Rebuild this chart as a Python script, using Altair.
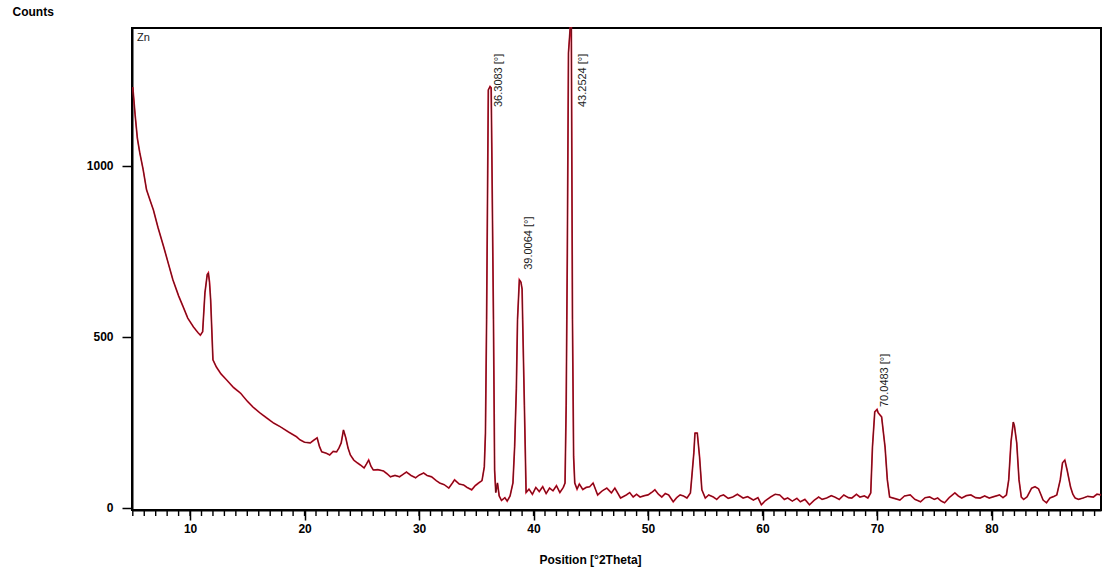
import altair as alt
import pandas as pd

two_theta = [
    5.0, 5.2, 5.4, 5.6, 5.9, 6.2, 6.5, 6.8, 7.2, 7.7, 8.1, 8.5, 9.0, 9.4, 9.8, 10.3, 10.7, 10.9,
    11.1, 11.3, 11.5, 11.6, 11.7, 11.8, 12.0, 12.3, 12.7, 13.2, 13.8, 14.4, 15.0, 15.5, 16.1, 16.7,
    17.3, 17.9, 18.6, 19.3, 19.6, 20.0, 20.5, 20.8, 21.1, 21.3, 21.5, 21.9, 22.2, 22.5, 22.8, 23.0,
    23.2, 23.4, 23.6, 23.8, 24.0, 24.3, 24.6, 24.9, 25.2, 25.4, 25.6, 25.8, 26.0, 26.4, 26.9, 27.2,
    27.5, 27.9, 28.3, 28.6, 28.9, 29.3, 29.7, 30.0, 30.4, 30.7, 31.1, 31.5, 31.8, 32.2, 32.6, 32.9,
    33.1, 33.5, 33.9, 34.2, 34.6, 34.9, 35.2, 35.5, 35.7, 35.8, 35.9, 36.05, 36.2, 36.3, 36.35, 36.5,
    36.6, 36.7, 36.85, 37.0, 37.2, 37.5, 37.7, 37.95, 38.2, 38.35, 38.5, 38.6, 38.76, 38.9, 39.0,
    39.05, 39.2, 39.35, 39.6, 39.9, 40.2, 40.5, 40.8, 41.1, 41.4, 41.7, 42.0, 42.3, 42.6, 42.75,
    42.85, 42.95, 43.05, 43.2, 43.3, 43.4, 43.5, 43.6, 43.8, 44.0, 44.3, 44.6, 44.9, 45.2, 45.6,
    46.0, 46.4, 46.8, 47.1, 47.6, 48.1, 48.4, 48.7, 49.0, 49.3, 49.7, 50.0, 50.3, 50.6, 50.9, 51.2,
    51.5, 51.8, 52.2, 52.5, 52.8, 53.1, 53.4, 53.7, 53.8, 54.0, 54.1, 54.3, 54.5, 54.7, 55.0, 55.3,
    55.7, 56.0, 56.3, 56.6, 57.0, 57.4, 57.8, 58.3, 58.7, 59.2, 59.6, 59.9, 60.2, 60.7, 61.1, 61.5,
    61.9, 62.2, 62.6, 63.0, 63.3, 63.7, 64.1, 64.5, 64.9, 65.2, 65.6, 66.0, 66.3, 66.7, 67.1, 67.5,
    67.8, 68.2, 68.5, 68.9, 69.2, 69.45, 69.6, 69.8, 70.0, 70.1, 70.4, 70.7, 70.9, 71.1, 71.5, 72.0,
    72.4, 72.9, 73.3, 73.8, 74.2, 74.6, 75.0, 75.3, 75.6, 75.9, 76.3, 76.8, 77.1, 77.4, 77.8, 78.2,
    78.6, 79.0, 79.4, 79.8, 80.2, 80.7, 81.0, 81.3, 81.5, 81.7, 81.9, 82.0, 82.2, 82.4, 82.6, 82.8,
    83.1, 83.5, 83.8, 84.1, 84.3, 84.5, 84.8, 85.1, 85.4, 85.7, 86.0, 86.2, 86.4, 86.6, 86.9, 87.1,
    87.3, 87.6, 88.0, 88.4, 88.9, 89.2, 89.6,
]
counts = [
    1230, 1150, 1080, 1040, 990, 930, 900, 871, 820, 763, 715, 667, 620, 588, 555, 529, 512, 505,
    515, 629, 682, 687, 660, 608, 433, 412, 392, 374, 352, 336, 312, 295, 278, 263,
    248, 237, 222, 208, 199, 192, 190, 198, 205, 180, 164, 160, 155, 165, 164, 175,
    190, 228, 205, 175, 155, 140, 132, 125, 117, 128, 140, 122, 111, 112, 108, 100,
    91, 95, 91, 98, 105, 95, 88, 96, 102, 95, 91, 80, 73, 68, 58, 72,
    82, 70, 67, 60, 53, 65, 73, 80, 120, 219, 550, 1222, 1232, 1228, 1067, 550,
    111, 45, 73, 35, 22, 30, 20, 35, 73, 180, 350, 550, 667, 660, 640,
    550, 300, 45, 55, 40, 60, 48, 62, 42, 58, 50, 65, 45, 60, 73,
    300, 745, 1330, 1600, 1450, 550, 150, 73, 55, 70, 54, 60, 62, 73, 38,
    50, 58, 44, 58, 29, 38, 45, 32, 40, 32, 36, 38, 45, 53, 40, 32,
    42, 38, 18, 30, 38, 35, 29, 44, 82, 161, 219, 219, 149, 53, 29, 38,
    32, 25, 35, 38, 28, 32, 40, 29, 33, 23, 30, 9, 20, 32, 40, 38,
    25, 29, 20, 28, 18, 25, 9, 22, 32, 25, 29, 36, 32, 25, 38, 30,
    29, 40, 32, 35, 29, 44, 178, 281, 288, 278, 266, 178, 82, 32, 28, 23,
    35, 38, 25, 18, 30, 32, 25, 29, 20, 15, 30, 44, 35, 29, 36, 38,
    30, 29, 35, 29, 33, 38, 30, 38, 82, 193, 251, 240, 190, 82, 32, 25,
    32, 58, 62, 56, 40, 23, 15, 29, 33, 38, 82, 132, 140, 111, 61, 40,
    29, 25, 29, 34, 32, 40, 38,
]

peak_label_x = [36.95, 39.6, 44.3, 70.7]
peak_label_y = [1172, 696, 1172, 295]
peak_label_text = ["36.3083 [°]", "39.0064 [°]", "43.2524 [°]", "70.0483 [°]"]

minor_ticks = list(range(5, 90))
x_ticks = [10, 20, 30, 40, 50, 60, 70, 80]
y_ticks = [0, 500, 1000]

df = pd.DataFrame({"pos": two_theta, "counts": counts})
labels_df = pd.DataFrame({"x": peak_label_x, "y": peak_label_y, "t": peak_label_text})
minor_df = pd.DataFrame({"pos": minor_ticks})
zn_df = pd.DataFrame({"t": ["Zn"]})

FONT = "Liberation Sans"
# clamp keeps the off-scale 43.25° peak at the top edge without mark clipping
xscale = alt.Scale(domain=[4.93, 89.56], nice=False, zero=False, clamp=True)
yscale = alt.Scale(domain=[-6, 1403], nice=False, zero=False, clamp=True)

x_axis = alt.Axis(
    values=x_ticks, format="d",
    title="Position [°2Theta]", titleX=458, titleY=44,
    titleFont=FONT, titleFontSize=12, titleFontWeight="bold", titleColor="black",
    labelFont=FONT, labelFontSize=12, labelFontWeight="bold", labelColor="black",
    labelPadding=3, tickSize=10, tickWidth=1.5, tickColor="black",
    domainColor="black", domainWidth=2, grid=False,
)
y_axis = alt.Axis(
    values=y_ticks, format="d", title="Counts", titleAngle=0, titleX=-120, titleY=-10,
    titleAlign="left", titleBaseline="bottom",
    titleFont=FONT, titleFontSize=12, titleFontWeight="bold", titleColor="black",
    labelFont=FONT, labelFontSize=12, labelFontWeight="bold", labelColor="black",
    labelPadding=9, tickSize=10, tickWidth=1.5, tickColor="black",
    domainColor="black", domainWidth=2, grid=False,
)

red_line = alt.Chart(df).mark_line(color="#e4102f", strokeWidth=1.7).encode(
    x=alt.X("pos:Q", scale=xscale, axis=x_axis),
    y=alt.Y("counts:Q", scale=yscale, axis=y_axis),
)
dark_line = alt.Chart(df).mark_line(color="#3d1414", strokeWidth=0.8).encode(
    x=alt.X("pos:Q", scale=xscale, axis=x_axis),
    y=alt.Y("counts:Q", scale=yscale, axis=y_axis),
)
minor = alt.Chart(minor_df).mark_rule(color="black", strokeWidth=1.4).encode(
    x=alt.X("pos:Q", scale=xscale, axis=x_axis),
    y=alt.value(483),
    y2=alt.value(488),
)
peak_labels = alt.Chart(labels_df).mark_text(
    angle=270, align="left", baseline="middle", font=FONT, fontSize=11, color="#222222"
).encode(
    x=alt.X("x:Q", scale=xscale), y=alt.Y("y:Q", scale=yscale), text="t:N"
)
zn = alt.Chart(zn_df).mark_text(
    align="left", baseline="middle", font=FONT, fontSize=11, color="#222222"
).encode(x=alt.value(5), y=alt.value(10), text="t:N")

chart = (
    alt.layer(red_line, dark_line, minor, peak_labels, zn)
    .properties(
        width=969, height=482,
        autosize=alt.AutoSizeParams(type="none"),
        padding={"left": 132, "top": 28, "right": 4, "bottom": 63},
        background="white",
    )
    .configure_view(stroke="black", strokeWidth=2)
)

chart.save("out.html", embed_options={"renderer": "svg", "actions": False})
